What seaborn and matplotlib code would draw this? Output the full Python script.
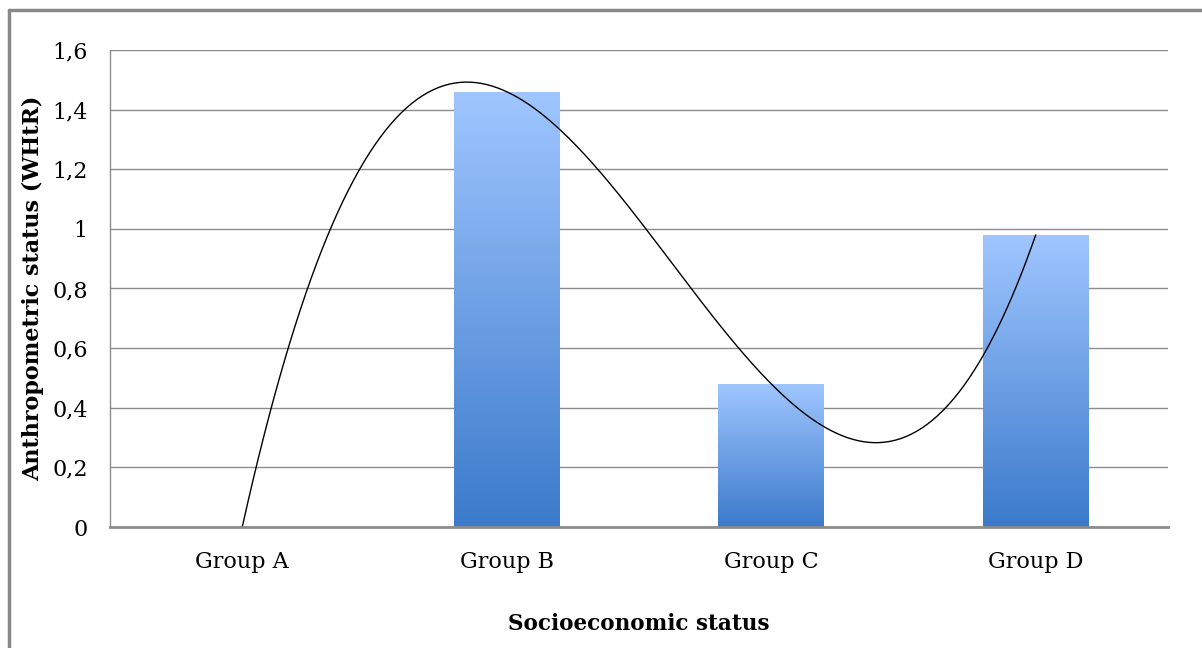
import numpy as np
import pandas as pd
import matplotlib
matplotlib.use("Agg")
import matplotlib.pyplot as plt
import seaborn as sns
from matplotlib.colors import LinearSegmentedColormap
from matplotlib.lines import Line2D
from matplotlib.ticker import FuncFormatter

groups = ["Group A", "Group B", "Group C", "Group D"]
whtr = [0.0, 1.46, 0.48, 0.98]
yticks = [0, 0.2, 0.4, 0.6, 0.8, 1.0, 1.2, 1.4, 1.6]

sns.set_theme(style="white")
plt.rcParams["font.family"] = ["DejaVu Serif"]

fig = plt.figure(figsize=(12.02, 6.48), dpi=100)
ax = fig.add_axes([110 / 1202, 1 - 527 / 648, (1168 - 110) / 1202, (527 - 50) / 648])

df = pd.DataFrame({"group": groups, "value": whtr})
sns.barplot(data=df, x="group", y="value", ax=ax, width=0.4, color="#4f86d0", zorder=2)

cmap = LinearSegmentedColormap.from_list("g", ["#3b7acb", "#a0c6ff"])
grad = np.linspace(0, 1, 256).reshape(-1, 1)
for p in ax.patches:
    x0, y0 = p.get_x(), p.get_y()
    w, h = p.get_width(), p.get_height()
    if h <= 0:
        continue
    p.set_facecolor("none")
    p.set_edgecolor("none")
    im = ax.imshow(grad, cmap=cmap, origin="lower", aspect="auto",
                   extent=(x0, x0 + w, y0, y0 + h), zorder=2)
    im.set_clip_path(p)

# cubic polynomial trendline fitted to the bar values
xs = np.arange(len(whtr))
coef = np.polyfit(xs, whtr, 3)
xx = np.linspace(0, len(whtr) - 1, 300)
ax.plot(xx, np.polyval(coef, xx), color="black", lw=1.0, zorder=4)

ax.set_xlim(-0.5, 3.5)
ax.set_ylim(0, 1.6)
ax.set_yticks(yticks)
ax.yaxis.set_major_formatter(FuncFormatter(lambda v, pos: ("%g" % round(v, 1)).replace(".", ",")))
ax.grid(axis="y", color="#8c8c8c", lw=1.0, zorder=0)
ax.set_axisbelow(True)
for s in ["top", "right"]:
    ax.spines[s].set_visible(False)
ax.spines["left"].set_color("#8c8c8c")
ax.spines["left"].set_linewidth(1.0)
ax.spines["bottom"].set_color("#8c8c8c")
ax.spines["bottom"].set_linewidth(2.0)
ax.spines["bottom"].set_zorder(5)
ax.tick_params(axis="both", length=0, labelsize=16, colors="black")
ax.tick_params(axis="x", pad=17)
ax.tick_params(axis="y", pad=16)

ax.set_xlabel("Socioeconomic status", fontsize=15.5, fontweight="bold", color="black", labelpad=29)
ax.set_ylabel("Anthropometric status (WHtR)", fontsize=16, fontweight="bold", color="black", labelpad=6)

# figure frame (top and left)
fig.add_artist(Line2D([9 / 1202, 1.0], [1 - 10 / 648, 1 - 10 / 648], color="#888888", lw=2.5,
                      transform=fig.transFigure))
fig.add_artist(Line2D([9 / 1202, 9 / 1202], [0, 1 - 10 / 648], color="#888888", lw=2.5,
                      transform=fig.transFigure))

fig.savefig("out.png", dpi=100)
